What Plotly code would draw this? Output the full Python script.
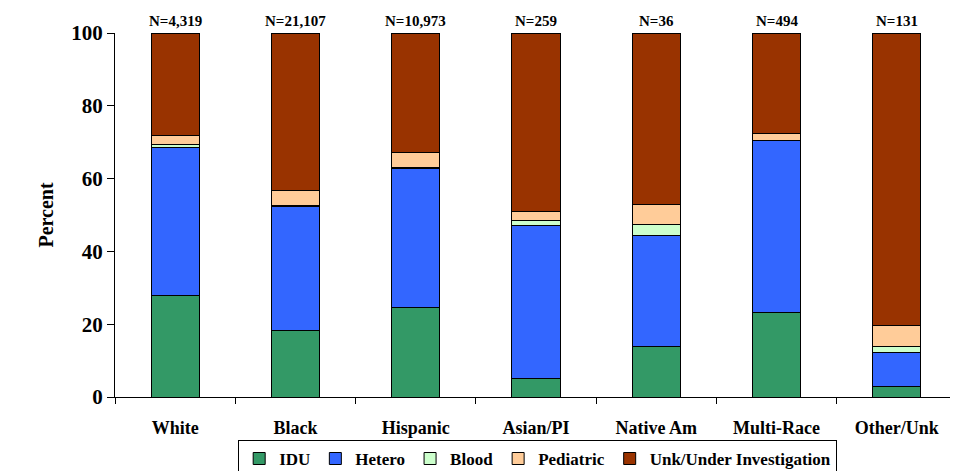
import plotly.graph_objects as go

categories = ["White", "Black", "Hispanic", "Asian/PI", "Native Am", "Multi-Race", "Other/Unk"]
n_labels = ["N=4,319", "N=21,107", "N=10,973", "N=259", "N=36", "N=494", "N=131"]

idu = [28.0, 18.4, 24.6, 5.0, 13.9, 23.3, 3.0]
hetero = [40.6, 33.8, 38.2, 42.1, 30.6, 47.2, 9.2]
blood = [0.7, 0.4, 0.2, 1.5, 2.8, 0.0, 1.6]
pediatric = [2.6, 4.0, 4.1, 2.3, 5.6, 2.0, 5.9]
unk = [28.1, 43.4, 32.9, 49.1, 47.1, 27.5, 80.3]

series = [
    ("IDU", idu, "#339966"),
    ("Hetero", hetero, "#3366FF"),
    ("Blood", blood, "#CCFFCC"),
    ("Pediatric", pediatric, "#FFCC99"),
    ("Unk/Under Investigation", unk, "#993300"),
]

FONT = "Liberation Serif, Times New Roman, serif"

fig = go.Figure()
for name, vals, col in series:
    fig.add_trace(go.Bar(
        x=categories, y=vals, name=name,
        marker=dict(color=col, line=dict(color="#000000", width=1)),
        width=0.4,
    ))

for c, t in zip(categories, n_labels):
    fig.add_annotation(x=c, y=100, text=t, showarrow=False, yanchor="bottom", yshift=2,
                       font=dict(family=FONT, size=15, color="#000", weight="bold"))

fig.update_layout(
    barmode="stack",
    width=950, height=463,
    margin=dict(l=107, r=1, t=25, b=74, autoexpand=False),
    paper_bgcolor="white", plot_bgcolor="white",
    font=dict(family=FONT, color="#000", weight="bold"),
    showlegend=True,
    legend=dict(
        orientation="h", traceorder="normal",
        x=0.502, xanchor="center", y=-0.118, yanchor="top",
        bordercolor="#000", borderwidth=1,
        font=dict(family=FONT, size=17, color="#000", weight="bold"),
        itemwidth=30, tracegroupgap=0,
    ),
)
fig.update_xaxes(
    showline=True, linecolor="#000", linewidth=1,
    ticks="outside", tickson="boundaries", ticklen=6, tickcolor="#000",
    tickfont=dict(family=FONT, size=18, color="#000", weight="bold"),
    ticklabelstandoff=14,
    showgrid=False,
)
fig.update_yaxes(
    range=[0, 100], dtick=20, showline=True, linecolor="#000", linewidth=1,
    ticks="outside", ticklen=7, tickcolor="#000",
    tickfont=dict(family=FONT, size=21, color="#000", weight="bold"),
    showgrid=False, zeroline=False,
    title=dict(text="Percent", font=dict(family=FONT, size=20, color="#000", weight="bold"), standoff=12),
)

fig.write_html("out.html")
